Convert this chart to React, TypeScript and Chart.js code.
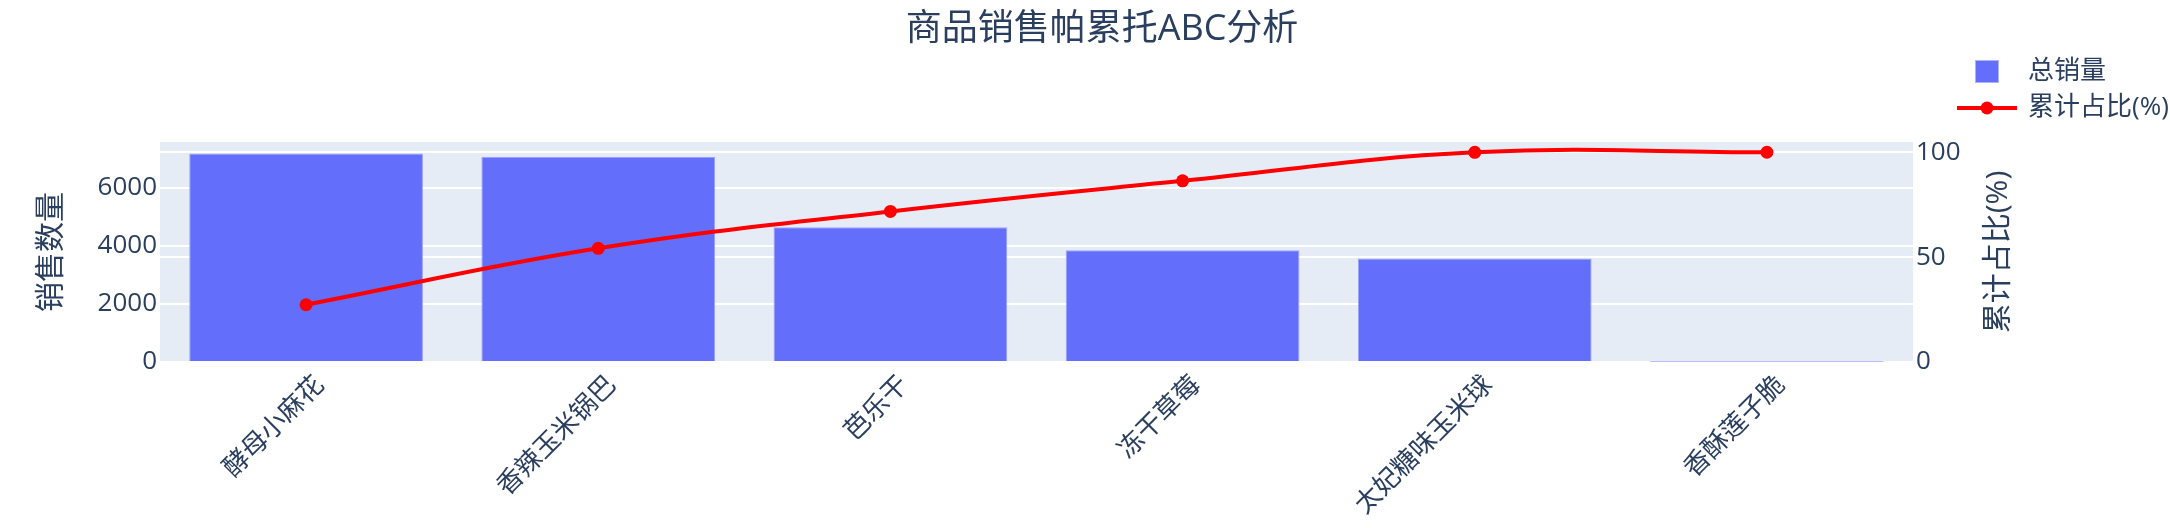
import React, { useEffect, useRef } from "react";
import Chart from "chart.js/auto";

const products = ["酵母小麻花", "香辣玉米锅巴", "芭乐干", "冻干草莓", "太妃糖味玉米球", "香酥莲子脆"];
const sales = [7190, 7080, 4645, 3850, 3565, 8];
const cumulativePct = [27.3, 54.2, 71.8, 86.4, 99.97, 100];
const salesTicks = [0, 2000, 4000, 6000];
const pctTicks = [0, 50, 100];

const FONT = '"Open Sans", "Noto Sans CJK SC", sans-serif';
const TEXT = "#2a3f5f";
const BAR = "#636EFA";
const LINE = "#FF0000";
const PLOT_BG = "#E5ECF6";

const W = 2170;
const H = 528;
const PLOT_LEFT = 160;
const PLOT_RIGHT = 1913;
const PLOT_TOP = 142;
const PLOT_BOTTOM = 362;

const decorations = {
  id: "decorations",
  beforeDraw(chart: any) {
    const { ctx, chartArea } = chart;
    ctx.save();
    ctx.fillStyle = PLOT_BG;
    ctx.fillRect(chartArea.left, chartArea.top, chartArea.right - chartArea.left, chartArea.bottom - chartArea.top);
    ctx.restore();
  },
  afterDraw(chart: any) {
    const { ctx, chartArea } = chart;
    const xScale = chart.scales.x;
    ctx.save();
    ctx.fillStyle = TEXT;
    ctx.textBaseline = "middle";

    // category labels, plotly style: -45deg, ending just right of the tick
    ctx.font = `26px ${FONT}`;
    ctx.textAlign = "right";
    products.forEach((name, i) => {
      const x = xScale.getPixelForTick(i);
      ctx.save();
      ctx.translate(x + 14, chartArea.bottom + 19);
      ctx.rotate(-Math.PI / 4);
      ctx.fillText(name, 0, 0);
      ctx.restore();
    });

    // title
    ctx.font = `36px ${FONT}`;
    ctx.textAlign = "center";
    ctx.fillText("商品销售帕累托ABC分析", 1102, 30);

    // right axis title, reads bottom to top like the left one
    ctx.save();
    ctx.translate(1998, (chartArea.top + chartArea.bottom) / 2);
    ctx.rotate(-Math.PI / 2);
    ctx.font = `30px ${FONT}`;
    ctx.fillText("累计占比(%)", 0, 0);
    ctx.restore();

    // legend
    ctx.font = `26px ${FONT}`;
    ctx.textAlign = "left";
    ctx.fillStyle = BAR;
    ctx.fillRect(1975, 60, 24, 23);
    ctx.strokeStyle = "#aeb4fc";
    ctx.lineWidth = 1;
    ctx.strokeRect(1975.5, 60.5, 23, 22);
    ctx.fillStyle = TEXT;
    ctx.fillText("总销量", 2028, 72);

    ctx.strokeStyle = LINE;
    ctx.lineWidth = 4;
    ctx.beginPath();
    ctx.moveTo(1957, 108);
    ctx.lineTo(2017, 108);
    ctx.stroke();
    ctx.fillStyle = LINE;
    ctx.beginPath();
    ctx.arc(1987, 108, 6.5, 0, Math.PI * 2);
    ctx.fill();
    ctx.fillStyle = TEXT;
    ctx.fillText("累计占比(%)", 2028, 108);
    ctx.restore();
  },
};

const ParetoChart: React.FC = () => {
  const canvasRef = useRef<HTMLCanvasElement>(null);
  const chartRef = useRef<Chart>();

  useEffect(() => {
    if (!canvasRef.current) return;
    if (chartRef.current) chartRef.current.destroy();

    chartRef.current = new Chart(canvasRef.current, {
      type: "bar",
      data: {
        labels: products,
        datasets: [
          {
            type: "line",
            label: "累计占比(%)",
            data: cumulativePct,
            yAxisID: "y1",
            borderColor: LINE,
            backgroundColor: LINE,
            borderWidth: 4,
            pointRadius: 6.5,
            pointBorderWidth: 0,
            tension: 0.4,
            order: 0,
          },
          {
            type: "bar",
            label: "总销量",
            data: sales,
            yAxisID: "y",
            backgroundColor: BAR,
            borderColor: "#9aa1fb",
            borderWidth: 1,
            categoryPercentage: 1,
            barPercentage: 0.8,
            order: 1,
          },
        ],
      },
      options: {
        responsive: false,
        animation: false,
        layout: { padding: { top: PLOT_TOP, left: 0, right: 0, bottom: 0 } },
        plugins: {
          legend: { display: false },
          title: { display: false },
          tooltip: { enabled: false },
        },
        scales: {
          x: {
            grid: { display: false },
            border: { display: false },
            ticks: { display: false },
            afterFit: (scale: any) => {
              scale.height = H - PLOT_BOTTOM;
            },
          },
          y: {
            position: "left",
            min: 0,
            max: 7586,
            grid: { color: "#ffffff", lineWidth: 2, drawTicks: false },
            border: { display: false },
            ticks: {
              color: TEXT,
              font: { family: FONT, size: 26 },
              padding: 3,
              callback: (v: any) => String(v),
            },
            afterBuildTicks: (scale: any) => {
              scale.ticks = salesTicks.map((v) => ({ value: v }));
            },
            title: {
              display: true,
              text: "销售数量",
              color: TEXT,
              font: { family: FONT, size: 30 },
              padding: { top: 33, bottom: 0 },
            },
            afterFit: (scale: any) => {
              scale.width = PLOT_LEFT;
            },
          },
          y1: {
            position: "right",
            min: 0,
            max: 104.9,
            grid: { color: "#ffffff", lineWidth: 2, drawTicks: false },
            border: { display: false },
            ticks: {
              color: TEXT,
              font: { family: FONT, size: 26 },
              padding: 3,
              callback: (v: any) => String(v),
            },
            afterBuildTicks: (scale: any) => {
              scale.ticks = pctTicks.map((v) => ({ value: v }));
            },
            afterFit: (scale: any) => {
              scale.width = W - PLOT_RIGHT;
            },
          },
        },
      },
      plugins: [decorations],
    } as any);

    return () => {
      if (chartRef.current) {
        chartRef.current.destroy();
        chartRef.current = undefined;
      }
    };
  }, []);

  return (
    <div style={{ position: "absolute", left: 0, top: 0, width: W, height: H, background: "#fff" }}>
      <canvas ref={canvasRef} width={W} height={H} style={{ width: W, height: H }} />
    </div>
  );
};

export default function App() {
  return <ParetoChart />;
}
